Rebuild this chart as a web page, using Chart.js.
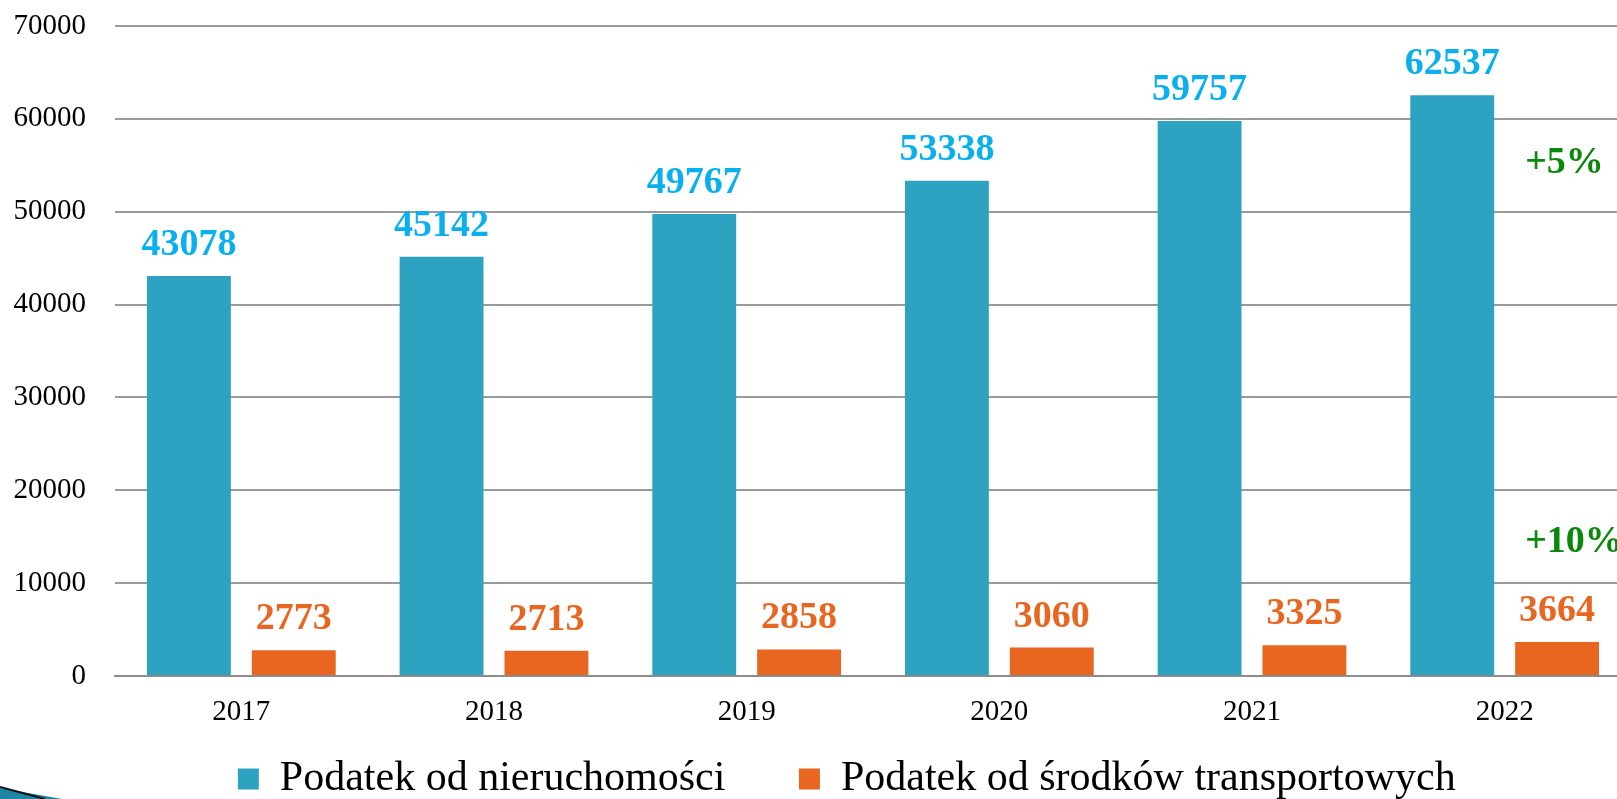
<!DOCTYPE html>
<html>
<head>
<meta charset="utf-8">
<script src="https://cdn.jsdelivr.net/npm/chart.js@4"></script>
<style>
  html, body { margin: 0; padding: 0; background: #fff; overflow: hidden; }
  #wrap { width: 1617px; height: 799px; overflow: hidden; }
</style>
</head>
<body>
<div id="wrap"><canvas id="myChart" width="1631" height="810"></canvas></div>
<script>
var years = ['2017', '2018', '2019', '2020', '2021', '2022'];
var nieruchomosci = [43078, 45142, 49767, 53338, 59757, 62537];
var transportowe = [2773, 2713, 2858, 3060, 3325, 3664];
var yMax = 70000;
var yStep = 10000;
// growth notes next to the 2022 bars
var growthText = ['+5%', '+10%'];
var growthLevel = [55200, 14400];

var serif = "'Liberation Serif', 'Times New Roman', serif";

// value labels above bars + growth notes
var valueLabels = {
    id: 'valueLabels',
    afterDatasetsDraw: function (chart) {
        var ctx = chart.ctx;
        var colors = ['#0AB0EE', '#E8661F'];
        ctx.save();
        ctx.font = 'bold 38px ' + serif;
        ctx.textAlign = 'center';
        ctx.textBaseline = 'alphabetic';
        chart.data.datasets.forEach(function (ds, i) {
            var meta = chart.getDatasetMeta(i);
            ctx.fillStyle = colors[i];
            meta.data.forEach(function (bar, j) {
                ctx.fillText(String(ds.data[j]), bar.x, bar.y - 21);
            });
        });
        var last = chart.getDatasetMeta(1).data[years.length - 1];
        var yScale = chart.scales.y;
        ctx.fillStyle = '#0A880A';
        ctx.textAlign = 'left';
        ctx.textBaseline = 'middle';
        growthText.forEach(function (t, k) {
            ctx.fillText(t, last.x - last.width / 2 + 10, yScale.getPixelForValue(growthLevel[k]));
        });
        ctx.restore();
    }
};

// little slide bullet in the bottom-left corner
var cornerMark = {
    id: 'cornerMark',
    afterDraw: function (chart) {
        var ctx = chart.ctx;
        var h = 799;
        ctx.save();
        ctx.fillStyle = '#1B86A6';
        ctx.beginPath();
        ctx.moveTo(0, h - 11);
        ctx.lineTo(62, h);
        ctx.lineTo(0, h);
        ctx.closePath();
        ctx.fill();
        ctx.strokeStyle = '#111';
        ctx.lineWidth = 2;
        ctx.beginPath();
        ctx.moveTo(0, h - 12);
        ctx.lineTo(45, h);
        ctx.stroke();
        ctx.restore();
    }
};

var ctx = document.getElementById('myChart').getContext('2d');
var chart = new Chart(ctx, {
    type: 'bar',
    data: {
        labels: years,
        datasets: [{
            label: 'Podatek od nieruchomości',
            backgroundColor: '#2EA3C1',
            data: nieruchomosci,
            barPercentage: 0.8,
            categoryPercentage: 0.83
        }, {
            label: 'Podatek od środków transportowych',
            backgroundColor: '#E8661F',
            data: transportowe,
            barPercentage: 0.8,
            categoryPercentage: 0.83
        }]
    },
    options: {
        responsive: false,
        animation: false,
        layout: { padding: { top: 26, right: 0, left: 0, bottom: 0 } },
        plugins: {
            legend: {
                position: 'bottom',
                fullSize: false,
                labels: {
                    boxWidth: 21,
                    boxHeight: 21,
                    padding: 0,
                    color: '#000',
                    font: { family: serif, size: 42, lineHeight: 1 },
                    generateLabels: function (chart) {
                        var items = Chart.defaults.plugins.legend.labels.generateLabels(chart);
                        // spacing between the two entries, and a little pull to the left
                        items[0].text += '\u00A0\u00A0\u00A0\u00A0\u00A0\u00A0\u00A0';
                        items[1].text += '\u00A0\u00A0\u00A0\u00A0\u00A0';
                        return items;
                    }
                }
            },
            tooltip: { enabled: false }
        },
        scales: {
            x: {
                grid: { display: false, drawTicks: false },
                border: { color: '#8c8c8c', width: 2 },
                ticks: { color: '#000', padding: 19, font: { family: serif, size: 29 } },
                afterFit: function (scale) { scale.height = 82; }
            },
            y: {
                min: 0,
                max: yMax,
                ticks: {
                    stepSize: yStep,
                    color: '#000',
                    padding: 0,
                    font: { family: serif, size: 29 },
                    callback: function (v) { return String(v); }
                },
                grid: { color: '#9a9a9a', lineWidth: 2, drawTicks: true, tickLength: 29, tickColor: 'rgba(0,0,0,0)' },
                border: { display: false },
                afterFit: function (scale) { scale.width = 115; }
            }
        }
    },
    plugins: [valueLabels, cornerMark]
});
</script>
</body>
</html>
